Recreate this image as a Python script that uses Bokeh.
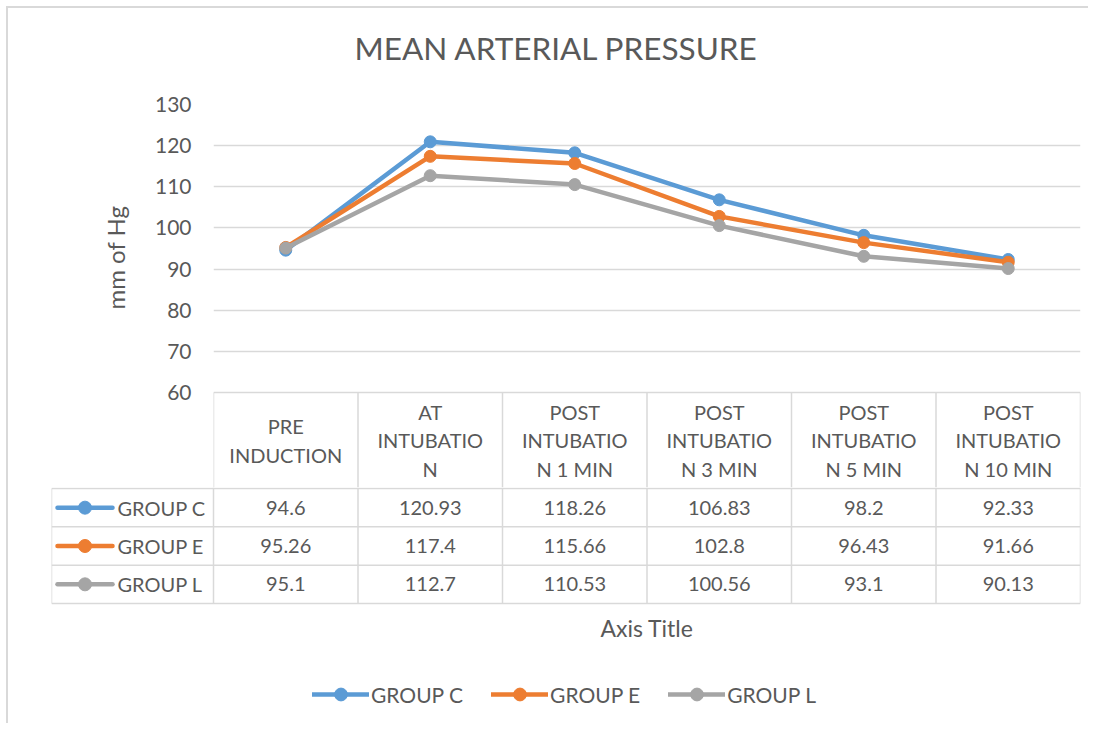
from bokeh.plotting import figure
from bokeh.models import Range1d, FixedTicker, Legend, LegendItem, Title
from bokeh.layouts import column, row
from bokeh.embed import file_html
from bokeh.resources import INLINE
from bokeh.core.properties import value

# ---------------- data ----------------
categories = ["PRE INDUCTION", "AT INTUBATION", "POST INTUBATION 1 MIN",
              "POST INTUBATION 3 MIN", "POST INTUBATION 5 MIN", "POST INTUBATION 10 MIN"]
category_labels = ["PRE\nINDUCTION", "AT\nINTUBATIO\nN", "POST\nINTUBATIO\nN 1 MIN",
                   "POST\nINTUBATIO\nN 3 MIN", "POST\nINTUBATIO\nN 5 MIN", "POST\nINTUBATIO\nN 10 MIN"]
group_names = ["GROUP C", "GROUP E", "GROUP L"]
group_c = [94.6, 120.93, 118.26, 106.83, 98.2, 92.33]
group_e = [95.26, 117.4, 115.66, 102.8, 96.43, 91.66]
group_l = [95.1, 112.7, 110.53, 100.56, 93.1, 90.13]
y_ticks = [60, 70, 80, 90, 100, 110, 120, 130]
chart_title = "MEAN ARTERIAL PRESSURE"
y_axis_title = "mm of Hg"
x_axis_title = "Axis Title"

# ---------------- style ----------------
colors = ["#5B9BD5", "#ED7D31", "#A5A5A5"]
FONT = "Lato"
TXT = "#595959"
GRID = "#D9D9D9"

series = [group_c, group_e, group_l]
n = len(categories)
xs = [i + 0.5 for i in range(n)]
y_lo, y_hi = y_ticks[0], y_ticks[-1]
upx = (y_hi - y_lo) / 288.0          # data units per pixel in the plot area
y_bottom = y_lo - 95 * upx           # frame also holds the header row of the data table

# ---------------- chart (with table header row) ----------------
p1 = figure(width=1080, height=479, x_range=Range1d(0, n), y_range=Range1d(y_bottom, y_hi),
            x_axis_location=None,
            output_backend="svg", toolbar_location=None,
            min_border_left=205, min_border_right=8, min_border_top=96, min_border_bottom=0)
p1.outline_line_color = None
p1.background_fill_color = "white"
p1.border_fill_color = "white"

# spacer between plot area and title, then the title itself
p1.add_layout(Title(text=" ", text_font_size="1px", standoff=35), "above")
p1.add_layout(Title(text=chart_title, align="left", offset=141, standoff=0,
                    text_font=FONT, text_font_size="31.5px", text_font_style="normal",
                    text_color=TXT), "above")

yax = p1.yaxis[0]
yax.ticker = FixedTicker(ticks=y_ticks, minor_ticks=[])
yax.axis_line_color = None
yax.major_tick_line_color = None
yax.minor_tick_line_color = None
yax.major_label_text_font = FONT
yax.major_label_text_font_size = "21px"
yax.major_label_text_color = TXT
yax.major_label_standoff = 16

p1.add_layout(Title(text=y_axis_title, align="left", offset=178, standoff=44,
                    text_font=FONT, text_font_size="24px", text_font_style="normal",
                    text_color=TXT), "left")

p1.xgrid.visible = False
p1.ygrid.grid_line_color = GRID
p1.ygrid.grid_line_width = 1.5

for vals, col in zip(series, colors):
    p1.line(xs, vals, line_color=col, line_width=4.5, line_join="round", line_cap="round")
    p1.scatter(xs, vals, size=12, fill_color=col, line_color=col)

# header row of the data table
p1.segment(x0=list(range(n + 1)), y0=[y_bottom] * (n + 1), x1=list(range(n + 1)), y1=[y_lo] * (n + 1),
           line_color=GRID, line_width=1.5)
p1.text(x=xs, y=[y_lo - 48 * upx] * n, text=category_labels, text_align="center", text_baseline="middle",
        text_font=value(FONT), text_font_size="20px", text_color=TXT, text_line_height=1.2)

# ---------------- data table rows + legend ----------------
col_px = 144.5
row_px = 38.333
x0 = -162 / col_px
p2 = figure(width=1080, height=236, x_range=Range1d(x0, n),
            y_range=Range1d(-120 / row_px, 116 / row_px),
            x_axis_type=None, y_axis_type=None,
            output_backend="svg", toolbar_location=None,
            min_border_left=43, min_border_right=8, min_border_top=0, min_border_bottom=0)
p2.outline_line_color = None
p2.xgrid.visible = False
p2.ygrid.visible = False

ng = len(group_names)
# horizontal lines
p2.segment(x0=[x0] * (ng + 1), y0=list(range(ng + 1)), x1=[n] * (ng + 1), y1=list(range(ng + 1)),
           line_color=GRID, line_width=1.5)
# vertical lines
p2.segment(x0=[x0] + list(range(n + 1)), y0=[0] * (n + 2),
           x1=[x0] + list(range(n + 1)), y1=[ng] + [116 / row_px] * (n + 1),
           line_color=GRID, line_width=1.5)

legend_items = []
for gi, (name, vals, col) in enumerate(zip(group_names, series, colors)):
    yrow = ng - gi - 0.5
    p2.text(x=xs, y=[yrow] * n, text=[str(v) for v in vals], text_align="center", text_baseline="middle",
            text_font=value(FONT), text_font_size="20px", text_color=TXT)
    p2.text(x=[-96 / col_px], y=[yrow], text=[name], text_align="left", text_baseline="middle",
            text_font=value(FONT), text_font_size="20px", text_color=TXT)
    lr = p2.line([-156 / col_px, -101 / col_px], [yrow, yrow], line_color=col, line_width=4.5, line_cap="round")
    sr = p2.scatter([-128.5 / col_px], [yrow], size=13, fill_color=col, line_color=col)
    legend_items.append(LegendItem(label=name, renderers=[lr, sr]))

p2.text(x=[n / 2], y=[-24 / row_px], text=[x_axis_title], text_align="center", text_baseline="middle",
        text_font=value(FONT), text_font_size="23px", text_color=TXT)

legend = Legend(items=legend_items, orientation="horizontal", location=(261, 13),
                border_line_color=None, background_fill_alpha=0, padding=0, margin=0,
                spacing=28, glyph_width=57, glyph_height=32, label_standoff=2,
                label_text_font=FONT, label_text_font_size="21px", label_text_color=TXT)
p2.add_layout(legend)

layout = column(p1, row(p2), styles={"border-top": "2px solid #D9D9D9", "border-left": "2px solid #D9D9D9",
                                     "margin-top": "6px", "margin-left": "6px"})

open("out.html", "w").write(file_html(layout, INLINE))
